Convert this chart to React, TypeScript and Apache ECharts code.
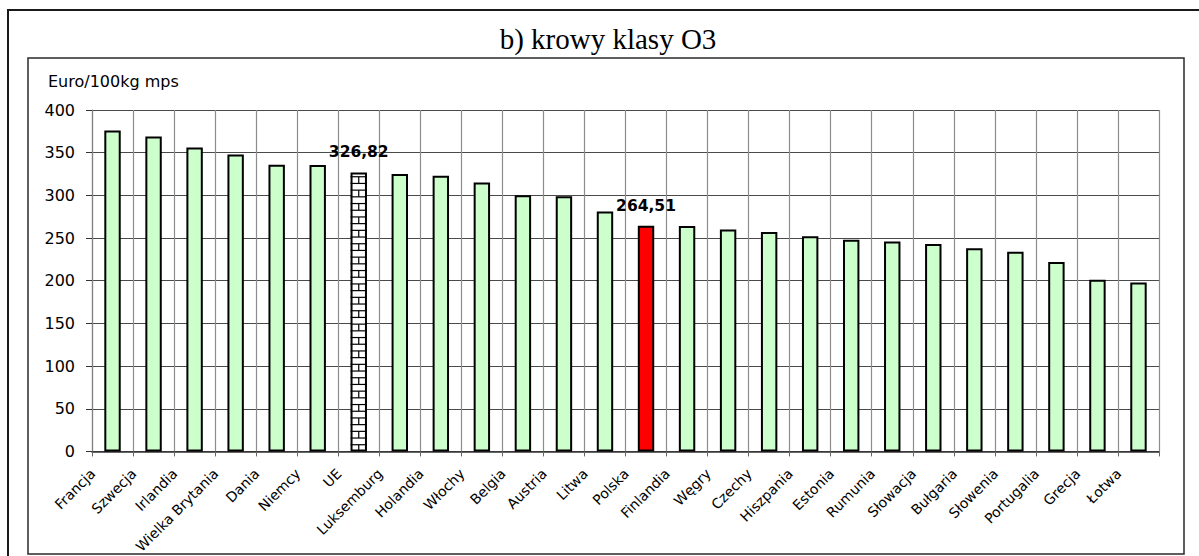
import React, { useEffect, useRef } from 'react';
import * as echarts from 'echarts';

const title = 'b) krowy klasy O3';
const yAxisName = 'Euro/100kg mps';
const categories = [
  'Francja', 'Szwecja', 'Irlandia', 'Wielka Brytania', 'Dania', 'Niemcy', 'UE', 'Luksemburg',
  'Holandia', 'Włochy', 'Belgia', 'Austria', 'Litwa', 'Polska', 'Finlandia', 'Węgry', 'Czechy',
  'Hiszpania', 'Estonia', 'Rumunia', 'Słowacja', 'Bułgaria', 'Słowenia', 'Portugalia', 'Grecja', 'Łotwa',
];
const values = [
  376, 369, 356, 348, 336, 335.5, 326.82, 325, 323, 315, 300, 299, 281, 264.51, 264, 260, 257,
  252, 248, 246, 243, 238, 234, 222, 201, 198,
];
const yMin = 0;
const yMax = 400;
const yStep = 50;
const labeledCategories = ['UE', 'Polska'];
const patternCategory = 'UE';
const highlightCategory = 'Polska';

const BAR_RATIO = 0.4;
const SANS = 'DejaVu Sans';

export default function App() {
  const ref = useRef<HTMLDivElement>(null);

  useEffect(() => {
    if (!ref.current) return;
    const chart = echarts.init(ref.current, null, { renderer: 'svg' });

    const barData = values.map((v, i) => {
      const c = categories[i];
      const color = c === highlightCategory ? '#ff0000' : c === patternCategory ? '#ffffff' : '#ccffcc';
      return {
        value: v,
        itemStyle: { color },
        label: { show: labeledCategories.includes(c) },
      };
    });
    const ueIdx = categories.indexOf(patternCategory);

    chart.setOption({
      animation: false,
      backgroundColor: '#ffffff',
      grid: { left: 92, top: 110, right: 40, bottom: 103.3, containLabel: false },
      graphic: [
        {
          type: 'rect', silent: true, z: 0,
          shape: { x: 8, y: 10, width: 1205, height: 560 },
          style: { fill: 'none', stroke: '#1a1a1a', lineWidth: 2 },
        },
        {
          type: 'rect', silent: true, z: 0,
          shape: { x: 28, y: 58, width: 1156, height: 496 },
          style: { fill: 'none', stroke: '#2a2a2a', lineWidth: 1.5 },
        },
        {
          type: 'text', silent: true, z: 10,
          x: 608, y: 39,
          style: {
            text: title, fill: '#000', fontFamily: 'Liberation Serif', fontSize: 29,
            textAlign: 'center', textVerticalAlign: 'middle',
          },
        },
        {
          type: 'text', silent: true, z: 10,
          x: 48, y: 81,
          style: {
            text: yAxisName, fill: '#000', fontFamily: SANS, fontSize: 16,
            textAlign: 'left', textVerticalAlign: 'middle',
          },
        },
      ],
      xAxis: {
        type: 'category',
        data: categories,
        boundaryGap: true,
        axisLine: { show: true, lineStyle: { color: '#333', width: 1.5 } },
        axisTick: { show: true, length: 5, lineStyle: { color: '#666' } },
        splitLine: { show: true, lineStyle: { color: '#8c8c8c', width: 1.2 } },
        axisLabel: {
          interval: 0,
          rotate: 45,
          margin: 0,
          padding: [0, 28, 0, 0],
          color: '#000',
          fontFamily: SANS,
          fontSize: 14,
          hideOverlap: false,
        },
      },
      yAxis: {
        type: 'value',
        min: yMin,
        max: yMax,
        interval: yStep,
        axisLine: { show: true, lineStyle: { color: '#808080', width: 1.2 } },
        axisTick: { show: true, length: 6, lineStyle: { color: '#333' } },
        splitLine: { show: true, lineStyle: { color: '#4a4a4a', width: 1.2 } },
        axisLabel: { margin: 17, color: '#000', fontFamily: SANS, fontSize: 16 },
      },
      series: [
        {
          type: 'bar',
          data: barData,
          barWidth: `${BAR_RATIO * 100}%`,
          itemStyle: { borderColor: '#000', borderWidth: 2 },
          label: {
            show: false,
            position: 'top',
            distance: 12,
            color: '#000',
            fontFamily: SANS,
            fontWeight: 'bold',
            fontSize: 15.5,
            formatter: (p: any) => String(p.value).replace('.', ','),
          },
          z: 2,
        },
        {
          type: 'custom',
          silent: true,
          z: 3,
          data: [[ueIdx, values[ueIdx]]],
          encode: { x: 0, y: 1 },
          renderItem: (params: any, api: any) => {
            const idx = api.value(0);
            const val = api.value(1);
            const top = api.coord([idx, val]);
            const base = api.coord([idx, 0]);
            const bw = api.size([1, 0])[0] * BAR_RATIO;
            const x0 = top[0] - bw / 2;
            const x1 = top[0] + bw / 2;
            const xc = top[0];
            const step = 6.7;
            const children: any[] = [];
            let row = 0;
            for (let y = base[1]; y > top[1] + 1; y -= step, row++) {
              const yNext = Math.max(y - step, top[1]);
              if (y < base[1]) {
                children.push({
                  type: 'line',
                  shape: { x1: x0, y1: y, x2: x1, y2: y },
                  style: { stroke: '#000', lineWidth: 1.2 },
                });
              }
              if (row % 2 === 0 && yNext > top[1] + 1) {
                children.push({
                  type: 'line',
                  shape: { x1: xc, y1: y, x2: xc, y2: yNext },
                  style: { stroke: '#000', lineWidth: 1.2 },
                });
              }
            }
            return { type: 'group', children };
          },
        },
      ],
    });

    return () => chart.dispose();
  }, []);

  return (
    <div
      ref={ref}
      style={{ position: 'absolute', left: 0, top: 0, width: 1199, height: 556, background: '#fff' }}
    />
  );
}
